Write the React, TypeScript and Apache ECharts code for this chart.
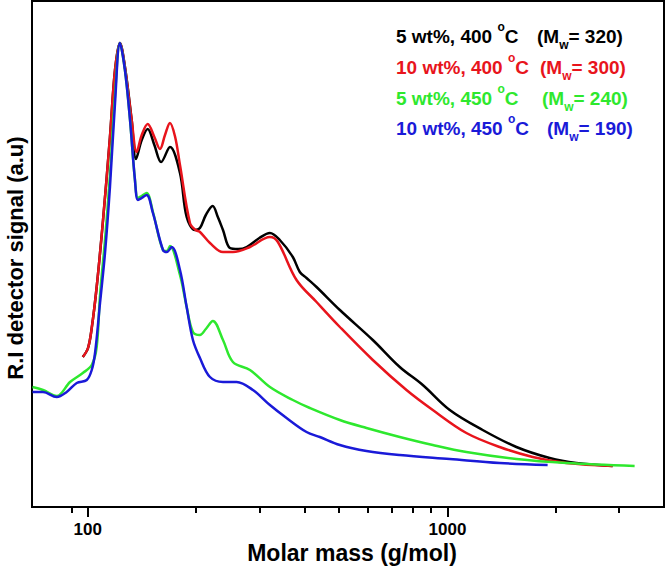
import React, { useEffect, useRef } from "react";
import * as echarts from "echarts";

// Molar mass (g/mol) and R.I. signal (a.u.)
const blackM = [96.9, 100.2, 102.6, 105.9, 110.3, 115.3, 119.1, 122.9, 126.9, 132.5, 136.2, 141.3, 146.8, 153.2, 160, 169.3, 180.5, 188.4, 198.6, 205.1, 213, 222.5, 230, 237.7, 248.5, 262, 276.6, 300, 321, 342, 371.7, 388.7, 405.8, 432.6, 502.3, 620.2, 737, 854, 1015, 1253, 1555, 1924, 2282, 2879];
const blackS = [150, 159, 179, 220, 287, 370, 437, 464, 440, 387, 348, 367, 378, 362, 345, 360, 334, 290, 277, 279, 292, 301, 290, 277, 259, 258, 260, 269, 274, 267, 250, 235, 229, 220, 197, 167, 140, 122, 97, 77, 60, 49, 44, 41];

const redM = [96.9, 100.2, 102.6, 105.9, 110.3, 115.3, 119.1, 122.9, 126.9, 132.5, 136.8, 141.3, 146.8, 153.2, 158.8, 164, 169.3, 175, 180.5, 192.4, 199.5, 205.1, 218.7, 237.7, 253.3, 282.5, 321, 337.8, 380.6, 432.6, 502.3, 620.2, 769.3, 910.4, 1129, 1397, 1726, 2141, 2879];
const redS = [150, 159, 179, 220, 287, 370, 437, 464, 440, 387, 355, 372, 383, 370, 358, 372, 384, 370, 342, 284, 277, 275, 264, 255, 255, 260, 270, 265, 227, 205, 180, 147, 117, 97, 74, 60, 50, 44, 41];

const greenM = [70.2, 75.1, 82, 89.3, 96.9, 102.6, 105.9, 108.2, 111.7, 115.3, 119.1, 122.9, 126.9, 131.1, 135.3, 137.9, 141.3, 145.8, 151.8, 161.9, 166, 169.3, 180.5, 188.4, 196.1, 205.1, 213, 222.8, 237.7, 253.3, 282.5, 321, 371.7, 414.5, 502.3, 595.7, 737, 910.4, 1129, 1555, 2141, 3314];
const greenS = [120, 117, 111, 125, 134, 142, 160, 212, 267, 332, 412, 464, 437, 387, 327, 309, 311, 314, 295, 257, 256, 261, 232, 200, 175, 172, 178, 186, 167, 145, 137, 120, 107, 99, 87, 79, 70, 62, 55, 48, 44, 41];

const blueM = [70.2, 75.1, 82, 87.4, 93.2, 99.4, 102.6, 104.8, 108.2, 111.7, 115.3, 119.1, 122.9, 126.9, 131.1, 135.3, 137.9, 141.3, 145.8, 151.8, 161.9, 166, 171.2, 180.5, 188.4, 196.1, 205.1, 218.7, 237.7, 259.4, 287.9, 321, 357.1, 405.8, 441.8, 502.3, 595.7, 737, 1015, 1397, 1899];
const blueS = [115, 115, 110, 115, 124, 127, 137, 154, 204, 254, 320, 404, 464, 437, 387, 327, 307, 309, 312, 294, 257, 255, 260, 237, 200, 167, 149, 130, 125, 125, 117, 102, 89, 75, 70, 62, 56, 52, 48, 44, 42];

const conditions = ["5 wt%, 400 {sup|o}C", "10 wt%, 400 {sup|o}C", "5 wt%, 450 {sup|o}C", "10 wt%, 450 {sup|o}C"];
const mwValues = ["320", "300", "240", "190"];
const colors = ["#000000", "#e8141c", "#2ee82e", "#1a1ad8"];

const majorTicks = [100, 1000];
const minorTicks = [90, 200, 300, 400, 500, 600, 700, 800, 900, 2000, 3000];
const xTitle = "Molar mass (g/mol)";
const yTitle = "R.I detector signal (a.u)";

const FONT = "'Liberation Sans', Arial, sans-serif";

function pairs(m: number[], s: number[]) {
  return m.map((v, i) => [v, s[i]]);
}

export default function App() {
  const ref = useRef<HTMLDivElement>(null);
  useEffect(() => {
    document.body.style.margin = "0";
    const chart = echarts.init(ref.current!, null, { renderer: "svg" });
    const seriesData = [pairs(blackM, blackS), pairs(redM, redS), pairs(greenM, greenS), pairs(blueM, blueS)];
    const legendRX = [537, 540, 542, 547];
    const legendY = [36, 67, 98, 128];
    const graphic: any[] = [
      {
        type: "text",
        x: 15.5,
        y: 258,
        rotation: Math.PI / 2,
        style: { text: yTitle, fill: "#000", font: `bold 22px ${FONT}`, align: "center", verticalAlign: "middle" },
      },
      {
        type: "text",
        x: 352,
        y: 553,
        style: { text: xTitle, fill: "#000", font: `bold 23px ${FONT}`, align: "center", verticalAlign: "middle" },
      },
    ];
    conditions.forEach((c, i) => {
      const rich = {
        sup: { fontSize: 12, fontWeight: "bold", fontFamily: FONT, fill: colors[i], lineHeight: 12, verticalAlign: "top" },
        sub: { fontSize: 12, fontWeight: "bold", fontFamily: FONT, fill: colors[i], lineHeight: 12, verticalAlign: "bottom" },
      };
      const base = {
        fill: colors[i],
        fontSize: 19,
        fontWeight: "bold",
        fontFamily: FONT,
        lineHeight: 30,
        verticalAlign: "middle",
        rich,
      };
      graphic.push({ type: "text", x: 396, y: legendY[i], style: { ...base, text: c } });
      graphic.push({ type: "text", x: legendRX[i], y: legendY[i], style: { ...base, text: `(M{sub|w}= ${mwValues[i]})` } });
    });

    chart.setOption({
      animation: false,
      backgroundColor: "#fff",
      grid: { left: 32, right: 2, top: 1, bottom: 68, show: true, borderColor: "#000", borderWidth: 2, backgroundColor: "transparent" },
      xAxis: [
        {
          type: "log",
          logBase: 10,
          min: 70,
          max: 4000,
          position: "bottom",
          axisLine: { show: true, lineStyle: { color: "#000", width: 2 } },
          axisTick: { show: true, length: 10, lineStyle: { color: "#000", width: 2 }, customValues: majorTicks },
          axisLabel: {
            customValues: majorTicks,
            formatter: (v: number) => String(Math.round(v)),
            fontSize: 17,
            fontWeight: "bold",
            color: "#000",
            fontFamily: FONT,
            margin: 14,
          },
          splitLine: { show: false },
        },
        {
          type: "log",
          logBase: 10,
          min: 70,
          max: 4000,
          position: "bottom",
          axisLine: { show: false },
          axisTick: { show: true, length: 6, lineStyle: { color: "#000", width: 2 }, customValues: minorTicks },
          axisLabel: { show: false },
          splitLine: { show: false },
        },
      ],
      yAxis: {
        type: "value",
        min: 0,
        max: 506,
        axisLine: { show: false },
        axisTick: { show: false },
        axisLabel: { show: false },
        splitLine: { show: false },
      },
      graphic,
      series: seriesData.map((d, i) => ({
        type: "line",
        xAxisIndex: 0,
        data: d,
        showSymbol: false,
        smooth: 0.35,
        lineStyle: { color: colors[i], width: 2.5 },
        itemStyle: { color: colors[i] },
        z: 2 + i,
      })),
    });
    return () => chart.dispose();
  }, []);
  return <div ref={ref} style={{ width: 666, height: 575 }} />;
}
